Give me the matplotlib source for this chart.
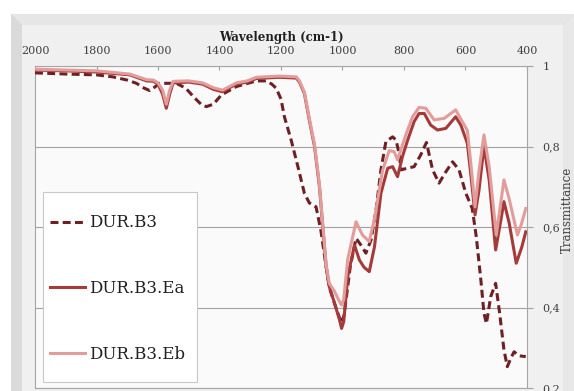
import matplotlib
matplotlib.use("Agg")
import matplotlib.pyplot as plt
from matplotlib.patches import Polygon, Rectangle

# FTIR spectra (wavenumber in cm-1, transmittance)
wn_b3 = [2000, 1900, 1800, 1747, 1700, 1670, 1645, 1627, 1610, 1594, 1540, 1510,
         1480, 1460, 1443, 1420, 1394, 1345, 1280, 1248, 1230, 1216, 1200, 1189,
         1167, 1145, 1124, 1108, 1086, 1070, 1053, 1043, 1026, 1010, 1003, 995,
         975, 956, 940, 924, 907, 891, 875, 859, 837, 826, 815, 810, 794, 767,
         745, 727, 707, 686, 664, 642, 621, 599, 578, 565, 550, 540, 532, 518,
         502, 489, 475, 464, 452, 442, 426, 404]
t_b3 = [0.983, 0.980, 0.978, 0.973, 0.965, 0.957, 0.945, 0.939, 0.948, 0.957,
        0.957, 0.945, 0.920, 0.905, 0.899, 0.905, 0.928, 0.949, 0.963, 0.963,
        0.955, 0.945, 0.918, 0.874, 0.816, 0.750, 0.684, 0.660, 0.650, 0.590,
        0.500, 0.450, 0.410, 0.375, 0.362, 0.380, 0.500, 0.572, 0.555, 0.535,
        0.568, 0.642, 0.742, 0.812, 0.824, 0.816, 0.780, 0.742, 0.745, 0.750,
        0.780, 0.810, 0.742, 0.709, 0.737, 0.762, 0.742, 0.684, 0.646, 0.576,
        0.468, 0.386, 0.360, 0.427, 0.460, 0.386, 0.295, 0.253, 0.275, 0.290,
        0.280, 0.278]

wn_ea = [2000, 1900, 1800, 1692, 1637, 1615, 1600, 1585, 1573, 1562, 1551, 1500,
         1455, 1420, 1390, 1370, 1345, 1310, 1280, 1205, 1150, 1140, 1124, 1108,
         1091, 1075, 1064, 1053, 1043, 1026, 1010, 1003, 996, 983, 961, 945, 930,
         913, 896, 875, 853, 837, 821, 805, 788, 767, 751, 734, 713, 691, 664,
         632, 615, 594, 583, 569, 556, 540, 523, 502, 485, 475, 458, 435, 417,
         404]
t_ea = [0.990, 0.988, 0.985, 0.978, 0.963, 0.962, 0.955, 0.930, 0.895, 0.930,
        0.958, 0.960, 0.955, 0.942, 0.936, 0.945, 0.955, 0.960, 0.969, 0.972,
        0.970, 0.960, 0.932, 0.866, 0.800, 0.700, 0.600, 0.500, 0.452, 0.411,
        0.370, 0.348, 0.365, 0.477, 0.555, 0.518, 0.500, 0.489, 0.551, 0.684,
        0.746, 0.750, 0.725, 0.775, 0.816, 0.862, 0.882, 0.882, 0.853, 0.841,
        0.845, 0.874, 0.853, 0.808, 0.733, 0.630, 0.692, 0.800, 0.717, 0.543,
        0.617, 0.663, 0.610, 0.510, 0.550, 0.588]

wn_eb = [2000, 1900, 1800, 1692, 1637, 1615, 1600, 1585, 1573, 1562, 1551, 1500,
         1455, 1420, 1390, 1370, 1345, 1310, 1280, 1205, 1150, 1140, 1124, 1108,
         1091, 1075, 1064, 1053, 1043, 1026, 1010, 1003, 996, 983, 956, 935, 913,
         896, 870, 848, 832, 821, 794, 772, 751, 729, 702, 669, 632, 594, 583,
         569, 556, 540, 523, 500, 475, 458, 431, 417, 404]
t_eb = [0.992, 0.990, 0.988, 0.980, 0.966, 0.965, 0.958, 0.940, 0.905, 0.940,
        0.962, 0.963, 0.958, 0.946, 0.940, 0.948, 0.958, 0.963, 0.972, 0.975,
        0.973, 0.963, 0.935, 0.870, 0.805, 0.705, 0.605, 0.505, 0.460, 0.440,
        0.415, 0.406, 0.420, 0.520, 0.613, 0.580, 0.564, 0.620, 0.740, 0.790,
        0.787, 0.767, 0.829, 0.874, 0.897, 0.895, 0.866, 0.870, 0.891, 0.840,
        0.760, 0.650, 0.740, 0.829, 0.750, 0.580, 0.717, 0.670, 0.580, 0.610,
        0.646]

x_ticks = [2000, 1800, 1600, 1400, 1200, 1000, 800, 600, 400]
y_ticks = [0.2, 0.4, 0.6, 0.8, 1.0]
y_tick_labels = ["0,2", "0,4", "0,6", "0,8", "1"]

W, H = 574, 391
plt.rcParams["font.family"] = ["DejaVu Serif"]

fig = plt.figure(figsize=(W / 100, H / 100), dpi=100)
fig.patch.set_facecolor("white")


def px(x, y):
    # pixel position (origin top-left) -> figure fraction
    return (x / W, 1 - y / H)


def frame_poly(pts, color, z=0):
    fig.add_artist(Polygon([px(*p) for p in pts], closed=True, transform=fig.transFigure,
                           facecolor=color, edgecolor="none", zorder=z))


# bevelled chart frame, Excel style
frame_poly([(11, 14), (574, 14), (574, 391), (11, 391)], "#d6d6d6")
frame_poly([(11, 14), (574, 14), (563, 25), (22, 25)], "#e6e6e6")
frame_poly([(11, 14), (22, 25), (22, 391), (11, 391)], "#dadada")
frame_poly([(574, 14), (563, 25), (563, 391), (574, 391)], "#e8e8e8")
frame_poly([(22, 25), (563, 25), (563, 391), (22, 391)], "#f0f0f0")

ax = fig.add_axes([35 / W, 1 - 388 / H, 492 / W, 322 / H])
ax.set_facecolor("#fafafa")

ax.plot(wn_b3, t_b3, color="#6e2024", lw=2.2, dashes=(2.6, 1.4), label="DUR.B3", zorder=3)
ax.plot(wn_ea, t_ea, color="#a53a3b", lw=2.2, label="DUR.B3.Ea", zorder=3)
ax.plot(wn_eb, t_eb, color="#e29c9a", lw=2.2, label="DUR.B3.Eb", zorder=3)

ax.set_xlim(2000, 400)
ax.set_ylim(0.2, 1.0)

ax.xaxis.tick_top()
ax.xaxis.set_label_position("top")
ax.set_xticks(x_ticks)
ax.tick_params(axis="x", direction="in", length=3, width=0.8, color="#a0a0a0",
               labelsize=8, pad=7, colors="#404040")
ax.set_xlabel("Wavelength (cm-1)", fontsize=8.5, fontweight="bold", labelpad=4,
              color="#202020")

ax.yaxis.tick_right()
ax.set_yticks(y_ticks)
ax.set_yticklabels(y_tick_labels)
ax.tick_params(axis="y", direction="out", length=4, width=0.8, color="#a0a0a0",
               labelsize=8, pad=7, labelcolor="#404040")
ax.yaxis.set_label_position("right")
ax.set_ylabel("Transmittance", fontsize=8.5, color="#404040", rotation=90)
ax.yaxis.set_label_coords(1.068, 0.553)

ax.grid(axis="y", color="#a0a0a0", lw=0.8)
ax.set_axisbelow(True)
for s in ax.spines.values():
    s.set_color("#a6a6a6")
    s.set_linewidth(0.8)

# legend box (drawn separately so the padding can differ per side)
ax.add_patch(Rectangle((0.0169, 0.0177), 0.3118, 0.5901, transform=ax.transAxes,
                       facecolor="white", edgecolor="#c8c8c8", lw=0.8, zorder=4))
leg = ax.legend(loc="upper left", bbox_to_anchor=(0.0305, 0.539), frameon=False,
                fontsize=12, handlelength=2.1, handletextpad=0.25, labelspacing=2.92,
                borderpad=0, borderaxespad=0)
leg.set_zorder(5)
for t in leg.get_texts():
    t.set_color("#202020")

fig.savefig("out.png", dpi=100)
